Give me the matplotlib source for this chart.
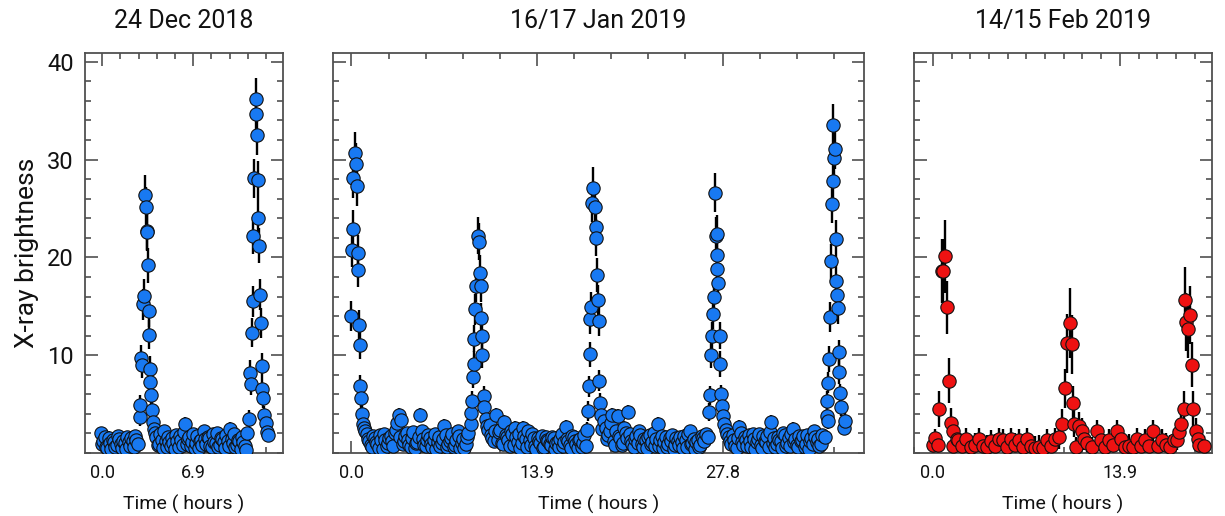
import numpy as np
import matplotlib
matplotlib.use("Agg")
import matplotlib.pyplot as plt
from matplotlib.ticker import MultipleLocator

plt.rcParams['font.family'] = ['Roboto', 'DejaVu Sans']

# ---------------- data ----------------
titles = ["24 Dec 2018", "16/17 Jan 2019", "14/15 Feb 2019"]
xtick_vals = [[0.0, 6.9], [0.0, 13.9, 27.8], [0.0, 13.9]]
xtick_labels = [["0.0", "6.9"], ["0.0", "13.9", "27.8"], ["0.0", "13.9"]]
ytick_vals = [10, 20, 30, 40]
ytick_labels = ["10", "20", "30", "40"]

# ---- 24 Dec 2018 ----
p1_base_step = 0.2
p1_base1_start = -0.1
p1_base1_y = [2.0, 1.2, 0.6, 1.5, 0.4, 1.1, 0.8, 1.4, 0.5, 1.0, 1.6, 0.7, 1.2, 1.7, 0.9]
p1_base1b_start = 0.0
p1_base1b_y = [0.9, 1.6, 0.5, 1.0, 1.3, 0.6, 1.7, 0.9, 1.2, 0.4, 1.1, 1.5, 0.6, 1.3]
p1_base2_start = 4.1
p1_base2_y = [1.6, 0.9, 1.3, 2.2, 0.6, 1.1, 1.5, 0.4, 1.2, 1.7, 0.8, 3.0, 1.4, 0.7, 1.9,
              1.0, 0.5, 1.3, 2.2, 0.9, 1.5, 0.6, 1.1, 2.0, 0.8, 1.4, 0.5, 1.2, 2.5, 1.0,
              0.6, 1.3, 0.4, 1.1, 0.3]
p1_base2b_start = 4.2
p1_base2b_y = [0.8, 1.9, 0.5, 1.2, 1.6, 0.7, 1.0, 1.8, 0.6, 1.3, 2.1, 0.9, 1.6, 1.1, 0.5,
               1.7, 1.2, 0.8, 1.4, 1.6, 0.7, 1.9, 1.0, 0.6, 1.5, 1.1, 1.8, 0.7, 1.4, 1.9,
               0.8, 1.2, 1.6, 0.7]
p1_base_err = 0.7

p1_f1_t = [2.83, 2.90, 2.97, 3.02, 3.10, 3.16, 3.24, 3.29, 3.36, 3.40, 3.46, 3.52, 3.57, 3.62,
           3.66, 3.71, 3.80, 3.88, 3.94, 4.00]
p1_f1_y = [3.7, 4.9, 9.7, 9.0, 15.2, 16.1, 26.4, 25.2, 22.7, 22.6, 19.2, 14.5, 12.1, 8.6,
           7.3, 5.9, 4.4, 3.2, 2.5, 2.0]
p1_f1_e = [0.9, 1.0, 1.3, 1.3, 1.6, 1.7, 2.0, 2.0, 1.9, 1.9, 1.8, 1.6, 1.5, 1.3,
           1.2, 1.1, 1.0, 0.9, 0.8, 0.7]

p1_f2_t = [11.0, 11.1, 11.17, 11.24, 11.32, 11.40, 11.45, 11.50, 11.62, 11.66, 11.70, 11.78,
           11.82, 11.88, 11.96, 12.02, 12.08, 12.14, 12.18, 12.28, 12.40, 12.50, 12.55]
p1_f2_y = [2.0, 3.5, 8.2, 7.1, 12.3, 15.5, 22.2, 28.1, 36.2, 34.7, 32.5, 27.9,
           24.0, 21.2, 16.2, 13.3, 8.9, 6.5, 5.6, 3.9, 3.1, 2.1, 1.8]
p1_f2_e = [0.7, 0.9, 1.3, 1.2, 1.5, 1.6, 1.9, 2.0, 2.1, 2.1, 2.0, 2.0,
           1.9, 1.8, 1.6, 1.5, 1.3, 1.1, 1.0, 0.9, 0.8, 0.7, 0.7]

# ---- 16/17 Jan 2019 ----
p2_base_step = 0.2
p2_base1_start = 0.95
p2_base1_y = [2.6, 1.9, 1.2, 0.6, 1.5, 0.9, 1.8, 0.4, 1.3, 1.0, 1.7, 0.7, 2.4, 3.9, 3.4,
              1.2, 2.0, 0.8, 1.5, 0.5, 1.1, 3.9, 1.4, 0.7, 1.8, 0.9, 1.3, 0.4, 1.6, 1.0,
              2.8, 0.6, 1.2, 1.9, 0.8, 2.2, 0.5, 1.4, 0.9, 2.0]
p2_base1b_start = 1.05
p2_base1b_y = [2.2, 1.4, 0.8, 1.7, 1.1, 0.5, 1.3, 1.9, 0.7, 1.5, 1.2, 2.0, 3.1, 1.6, 0.9,
               1.7, 1.3, 0.6, 2.1, 1.0, 1.6, 2.2, 0.8, 1.3, 1.5, 0.6, 1.9, 1.1, 0.7, 1.4,
               1.8, 0.9, 1.5, 0.6, 1.3, 1.7, 1.0, 0.5, 1.6]
p2_base2_start = 10.25
p2_base2_y = [2.4, 1.8, 1.2, 3.9, 2.1, 1.0, 3.2, 1.6, 0.7, 1.9, 2.6, 1.1, 0.5, 2.6, 1.4,
              2.3, 0.8, 1.5, 0.4, 1.2, 1.7, 0.6, 1.3, 0.9, 1.6, 0.4, 1.1, 1.4, 0.7, 2.7,
              1.2, 0.5, 1.6, 0.9, 1.3, 0.6, 1.8]
p2_base2b_start = 10.35
p2_base2b_y = [2.9, 1.5, 2.2, 1.3, 2.4, 0.9, 1.8, 1.3, 2.2, 0.8, 1.6, 1.9, 1.0, 1.7, 0.6,
               1.3, 1.9, 0.7, 1.5, 1.0, 0.5, 1.6, 1.2, 0.8, 1.5, 1.0, 0.6, 1.9, 1.1, 1.4,
               0.8, 1.7, 1.2, 0.5, 1.4, 1.0]
p2_base3_start = 18.95
p2_base3_y = [3.3, 1.4, 2.2, 3.9, 0.8, 3.8, 1.5, 1.0, 2.0, 4.2, 1.2, 0.6, 1.7, 2.2, 0.9,
              1.4, 0.5, 1.8, 1.1, 0.7, 3.0, 1.3, 0.5, 1.6, 0.9, 1.2, 0.4, 1.5, 0.8, 1.1,
              1.7, 0.6, 2.2, 1.0, 0.4, 1.3, 0.8, 1.5, 1.9]
p2_base3b_start = 19.05
p2_base3b_y = [2.6, 1.8, 3.1, 1.2, 2.3, 1.7, 0.8, 2.6, 1.5, 1.9, 0.9, 1.4, 1.0, 1.8, 0.6,
               1.3, 1.6, 0.9, 2.0, 1.4, 0.7, 1.7, 1.1, 0.6, 1.5, 1.8, 0.8, 1.2, 1.6, 0.5,
               1.3, 1.9, 0.9, 1.4, 1.1, 0.6, 1.7, 1.2]
p2_base4_start = 28.05
p2_base4_y = [2.4, 1.6, 0.9, 1.3, 0.5, 2.7, 1.1, 1.6, 0.7, 1.2, 1.9, 0.4, 1.4, 0.8, 1.7,
              1.1, 0.6, 3.2, 1.5, 0.9, 1.3, 0.5, 1.8, 1.0, 0.7, 2.5, 1.4, 0.6, 1.2, 1.7,
              0.9, 0.4, 1.5, 2.2, 1.1, 0.7, 1.8]
p2_base4b_start = 28.15
p2_base4b_y = [1.9, 1.2, 1.8, 0.7, 1.5, 2.0, 0.8, 1.3, 1.8, 0.6, 1.4, 1.1, 1.9, 0.5, 1.2,
               1.7, 2.1, 1.0, 0.6, 1.6, 1.2, 2.0, 0.7, 1.5, 1.9, 1.1, 0.8, 1.7, 1.3, 0.6,
               1.8, 1.2, 0.9, 1.6, 1.4, 0.9]
p2_base_err = 0.7

p2_fa_t = [0.00, 0.03, 0.10, 0.14, 0.25, 0.32, 0.42, 0.47, 0.52, 0.56, 0.62, 0.68, 0.72, 0.80, 0.87]
p2_fa_y = [14.0, 20.8, 22.9, 28.1, 30.7, 29.6, 27.3, 20.5, 18.7, 13.1, 11.0, 6.9, 5.6, 4.0, 3.0]
p2_fa_e = [1.5, 1.8, 1.9, 2.0, 2.1, 2.1, 2.0, 1.8, 1.7, 1.5, 1.4, 1.1, 1.0, 0.9, 0.8]

p2_fb_t = [8.95, 8.99, 9.06, 9.11, 9.16, 9.20, 9.24, 9.30, 9.48, 9.54, 9.61, 9.69, 9.74, 9.78,
           9.81, 9.91, 9.95, 10.06, 10.12]
p2_fb_y = [3.0, 4.1, 5.3, 7.8, 9.1, 11.7, 14.7, 17.1, 22.2, 21.6, 18.4, 17.1, 13.8, 12.0,
           10.0, 5.8, 4.7, 3.5, 2.8]
p2_fb_e = [0.8, 0.9, 1.0, 1.2, 1.3, 1.4, 1.6, 1.7, 1.9, 1.9, 1.8, 1.7, 1.5, 1.4,
           1.3, 1.0, 0.9, 0.8, 0.8]

p2_fc_t = [17.60, 17.65, 17.72, 17.80, 17.86, 17.90, 17.98, 18.05, 18.10, 18.22, 18.30, 18.35,
           18.40, 18.47, 18.55, 18.58, 18.65, 18.73, 18.80]
p2_fc_y = [0.7, 2.4, 4.3, 6.8, 10.1, 13.7, 14.9, 25.6, 27.1, 25.2, 23.1, 22.0,
           18.2, 15.6, 13.5, 7.4, 5.1, 3.9, 2.5]
p2_fc_e = [0.6, 0.8, 1.0, 1.1, 1.3, 1.5, 1.6, 2.0, 2.1, 2.0, 1.9, 1.9,
           1.7, 1.6, 1.5, 1.1, 1.0, 0.9, 0.8]

p2_fd_t = [26.71, 26.79, 26.89, 26.97, 27.04, 27.09, 27.14, 27.21, 27.29, 27.35, 27.39, 27.42,
           27.46, 27.59, 27.64, 27.71, 27.76, 27.84, 27.89]
p2_fd_y = [1.6, 4.2, 5.9, 10.0, 12.0, 14.2, 15.9, 26.6, 22.2, 22.4, 20.2, 18.8,
           17.4, 12.0, 9.1, 6.0, 4.8, 3.8, 3.0]
p2_fd_e = [0.7, 0.9, 1.0, 1.3, 1.4, 1.5, 1.6, 2.0, 1.9, 1.9, 1.8, 1.7,
           1.7, 1.4, 1.3, 1.0, 0.9, 0.8, 0.8]

p2_fe_t = [35.45, 35.60, 35.66, 35.70, 35.73, 35.80, 35.83, 35.96, 36.03, 36.08, 36.10, 36.13,
           36.20, 36.28, 36.33, 36.38, 36.45, 36.52, 36.55, 36.62, 36.70, 36.88, 36.95]
p2_fe_y = [1.6, 3.8, 5.3, 3.3, 7.2, 9.6, 13.9, 19.6, 25.5, 33.5, 27.8, 30.2,
           31.1, 21.9, 17.6, 16.2, 14.8, 10.3, 8.3, 6.1, 4.7, 2.6, 3.3]
p2_fe_e = [0.7, 0.9, 1.0, 0.8, 1.1, 1.3, 1.5, 1.8, 2.0, 2.2, 2.0, 2.1,
           2.1, 1.9, 1.7, 1.6, 1.6, 1.3, 1.2, 1.0, 0.9, 0.8, 0.8]

# ---- 14/15 Feb 2019 ----
p3_base_step = 0.3
p3_base1_start = 1.9
p3_base1_y = [1.3, 0.7, 1.4, 0.6, 0.8, 1.4, 0.7, 0.6, 1.2, 0.7, 1.4, 1.3, 0.6, 1.4, 0.8,
              1.3, 0.6, 1.4, 0.7, 0.5, 0.6, 0.5, 1.3, 0.7, 1.4, 1.6]
p3_base2_start = 12.2
p3_base2_y = [2.2, 1.3, 0.6, 1.3, 0.8, 2.2, 1.4, 0.6, 0.7, 0.6, 1.4, 0.7, 1.3, 0.7, 2.2,
              0.7, 1.3, 0.8, 0.6, 1.3]
p3_base_err = 1.2

p3_f1_t = [0.00, 0.15, 0.40, 0.47, 0.65, 0.77, 0.89, 1.07, 1.19, 1.32, 1.47, 1.51, 1.76]
p3_f1_y = [0.8, 1.5, 0.8, 4.5, 18.6, 18.6, 20.1, 14.9, 7.4, 3.1, 2.2, 0.7, 1.4]
p3_f1_e = [1.0, 1.0, 1.0, 1.8, 3.3, 3.3, 3.7, 2.7, 2.3, 1.5, 1.3, 1.0, 1.1]

p3_f2_t = [9.58, 9.83, 10.00, 10.20, 10.37, 10.45, 10.50, 10.65, 10.85, 11.07, 11.25, 11.45, 11.80]
p3_f2_y = [3.0, 6.6, 11.2, 13.3, 11.1, 5.1, 3.0, 0.6, 2.8, 2.3, 1.4, 1.0, 0.6]
p3_f2_e = [1.5, 2.0, 3.0, 3.6, 3.0, 1.8, 1.4, 1.0, 1.4, 1.3, 1.1, 1.0, 1.0]

p3_f3_t = [18.15, 18.27, 18.44, 18.64, 18.76, 18.84, 18.96, 19.08, 19.26, 19.34, 19.58, 19.70,
           19.80, 20.13]
p3_f3_y = [1.3, 2.1, 3.0, 4.5, 15.6, 13.4, 12.7, 14.1, 9.0, 4.5, 2.3, 1.4, 0.8, 0.7]
p3_f3_e = [1.0, 1.2, 1.5, 1.8, 3.4, 3.0, 3.0, 3.0, 2.3, 1.8, 1.3, 1.1, 1.0, 1.0]


def binned(start, step, values, err):
    n = len(values)
    return start + step * np.arange(n), np.asarray(values, float), np.full(n, err)


def flare(t, y, e):
    return np.asarray(t, float), np.asarray(y, float), np.asarray(e, float)


panel_series = [
    [binned(p1_base1_start, p1_base_step, p1_base1_y, p1_base_err),
     binned(p1_base1b_start, p1_base_step, p1_base1b_y, p1_base_err),
     binned(p1_base2_start, p1_base_step, p1_base2_y, p1_base_err),
     binned(p1_base2b_start, p1_base_step, p1_base2b_y, p1_base_err),
     flare(p1_f1_t, p1_f1_y, p1_f1_e),
     flare(p1_f2_t, p1_f2_y, p1_f2_e)],
    [binned(p2_base1_start, p2_base_step, p2_base1_y, p2_base_err),
     binned(p2_base1b_start, p2_base_step, p2_base1b_y, p2_base_err),
     binned(p2_base2_start, p2_base_step, p2_base2_y, p2_base_err),
     binned(p2_base2b_start, p2_base_step, p2_base2b_y, p2_base_err),
     binned(p2_base3_start, p2_base_step, p2_base3_y, p2_base_err),
     binned(p2_base3b_start, p2_base_step, p2_base3b_y, p2_base_err),
     binned(p2_base4_start, p2_base_step, p2_base4_y, p2_base_err),
     binned(p2_base4b_start, p2_base_step, p2_base4b_y, p2_base_err),
     flare(p2_fa_t, p2_fa_y, p2_fa_e),
     flare(p2_fb_t, p2_fb_y, p2_fb_e),
     flare(p2_fc_t, p2_fc_y, p2_fc_e),
     flare(p2_fd_t, p2_fd_y, p2_fd_e),
     flare(p2_fe_t, p2_fe_y, p2_fe_e)],
    [binned(p3_base1_start, p3_base_step, p3_base1_y, p3_base_err),
     binned(p3_base2_start, p3_base_step, p3_base2_y, p3_base_err),
     flare(p3_f1_t, p3_f1_y, p3_f1_e),
     flare(p3_f2_t, p3_f2_y, p3_f2_e),
     flare(p3_f3_t, p3_f3_y, p3_f3_e)],
]

# ---------------- style / layout ----------------
colors = ['#1879F2', '#1879F2', '#EE1212']
xlims = [(-1.3, 13.7), (-1.38, 38.4), (-1.4, 20.75)]
minor_steps = [1.38, 2.78, 1.39]
W, H = 1225, 516
boxes_px = [(85, 283), (333, 864), (914, 1212)]
top_px, bot_px = 53, 453
ax_color = '#505050'

fig = plt.figure(figsize=(W / 100, H / 100), dpi=100)

for i, (x0, x1) in enumerate(boxes_px):
    ax = fig.add_axes([x0 / W, (H - bot_px) / H, (x1 - x0) / W, (bot_px - top_px) / H])
    ts = np.concatenate([s[0] for s in panel_series[i]])
    ys = np.concatenate([s[1] for s in panel_series[i]])
    es = np.concatenate([s[2] for s in panel_series[i]])
    order = np.argsort(ts, kind='stable')
    ts, ys, es = ts[order], ys[order], es[order]
    ax.errorbar(ts, ys, yerr=es, fmt='none', ecolor='black', elinewidth=1.7,
                capsize=0, zorder=2)
    ax.plot(ts, ys, 'o', ms=9.6, mfc=colors[i], mec='#111111', mew=0.8,
            linestyle='none', zorder=3)

    ax.set_xlim(*xlims[i])
    ax.set_ylim(0, 40.9)
    ax.set_xticks(xtick_vals[i])
    ax.set_xticklabels(xtick_labels[i])
    ax.xaxis.set_minor_locator(MultipleLocator(minor_steps[i]))
    ax.set_yticks(ytick_vals)
    ax.yaxis.set_minor_locator(MultipleLocator(2))
    if i == 0:
        ax.set_yticklabels(ytick_labels)
        ax.set_ylabel("X-ray brightness", fontsize=19, color='#111111', labelpad=6)
    else:
        ax.set_yticklabels([])

    ax.tick_params(which='both', direction='in', top=True, right=True,
                   color=ax_color, width=1.2)
    ax.tick_params(which='major', length=9)
    ax.tick_params(which='minor', length=4.5)
    ax.tick_params(axis='x', which='major', labelsize=13, pad=8, labelcolor='#111111')
    ax.tick_params(axis='y', which='major', labelsize=17, pad=8, labelcolor='#111111')
    for sp in ax.spines.values():
        sp.set_color(ax_color)
        sp.set_linewidth(1.3)

    ax.set_xlabel("Time ( hours )", fontsize=14, color='#111111', labelpad=9)
    ax.set_title(titles[i], fontsize=18, color='#111111', pad=18)

fig.savefig("out.png", dpi=100)
